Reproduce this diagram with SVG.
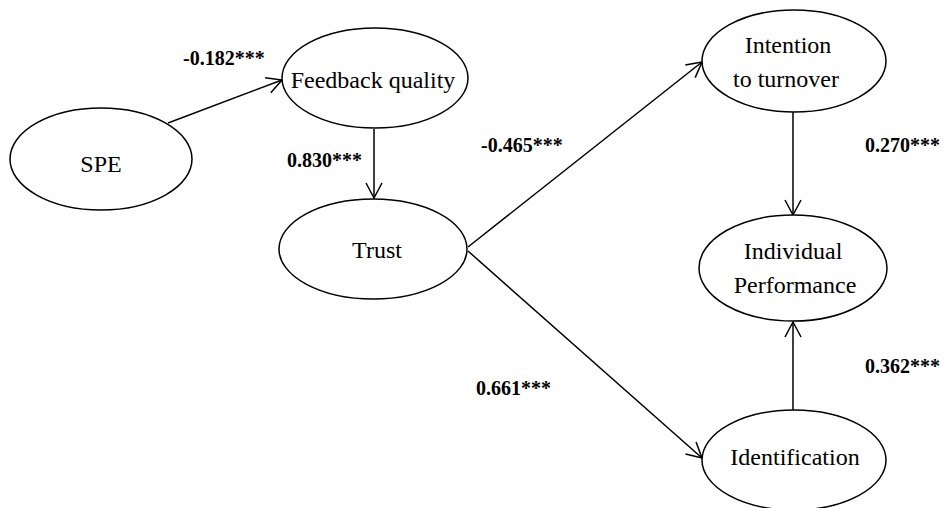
<svg xmlns="http://www.w3.org/2000/svg" width="944" height="508" viewBox="0 0 944 508">
  <style>
    .shape { fill: #ffffff; stroke: #000000; stroke-width: 1.5; }
    .label { font-family: "Liberation Serif", "Times New Roman", serif; font-size: 24px; fill: #000000; text-anchor: middle; }
    .link { stroke: #000000; stroke-width: 1.5; fill: none; }
    .coef { font-family: "Liberation Serif", "Times New Roman", serif; font-size: 20px; font-weight: bold; fill: #000000; }
  </style>
  <defs>
    <marker id="arrow" markerUnits="userSpaceOnUse" viewBox="-17 -10 19 20" refX="0" refY="0" markerWidth="19" markerHeight="20" orient="auto">
      <path d="M-15,-8 L0,0 L-15,8" fill="none" stroke="#000000" stroke-width="1.5"/>
    </marker>
  </defs>
  <rect width="944" height="508" fill="#ffffff"/>

  <g id="connectors">
    <line class="link" x1="168" y1="123" x2="282" y2="80" marker-end="url(#arrow)"/>
    <line class="link" x1="374" y1="129" x2="374" y2="198" marker-end="url(#arrow)"/>
    <line class="link" x1="468" y1="247" x2="702" y2="62" marker-end="url(#arrow)"/>
    <line class="link" x1="468" y1="251" x2="702" y2="458" marker-end="url(#arrow)"/>
    <line class="link" x1="793" y1="112" x2="793" y2="215" marker-end="url(#arrow)"/>
    <line class="link" x1="793" y1="410" x2="793" y2="322" marker-end="url(#arrow)"/>
  </g>

  <g id="node-spe">
    <ellipse class="shape" cx="101" cy="159" rx="91" ry="51"/>
    <text class="label" x="101" y="172">SPE</text>
  </g>
  <g id="node-feedback">
    <ellipse class="shape" cx="375" cy="78" rx="93" ry="50"/>
    <text class="label" x="373" y="88">Feedback quality</text>
  </g>
  <g id="node-trust">
    <ellipse class="shape" cx="373" cy="249" rx="94" ry="50"/>
    <text class="label" x="377" y="258">Trust</text>
  </g>
  <g id="node-intention">
    <ellipse class="shape" cx="794" cy="61" rx="92" ry="51"/>
    <text class="label" x="788" y="53">Intention</text>
    <text class="label" x="786" y="87">to turnover</text>
  </g>
  <g id="node-performance">
    <ellipse class="shape" cx="793" cy="268" rx="94" ry="53"/>
    <text class="label" x="793" y="259">Individual</text>
    <text class="label" x="795" y="293">Performance</text>
  </g>
  <g id="node-identification">
    <ellipse class="shape" cx="794" cy="460" rx="92" ry="50"/>
    <text class="label" x="795" y="465">Identification</text>
  </g>

  <g id="coefficients">
    <text class="coef" x="183" y="65">-0.182***</text>
    <text class="coef" x="287" y="167">0.830***</text>
    <text class="coef" x="481" y="152">-0.465***</text>
    <text class="coef" x="865" y="152">0.270***</text>
    <text class="coef" x="476" y="395">0.661***</text>
    <text class="coef" x="865" y="373">0.362***</text>
  </g>
</svg>
